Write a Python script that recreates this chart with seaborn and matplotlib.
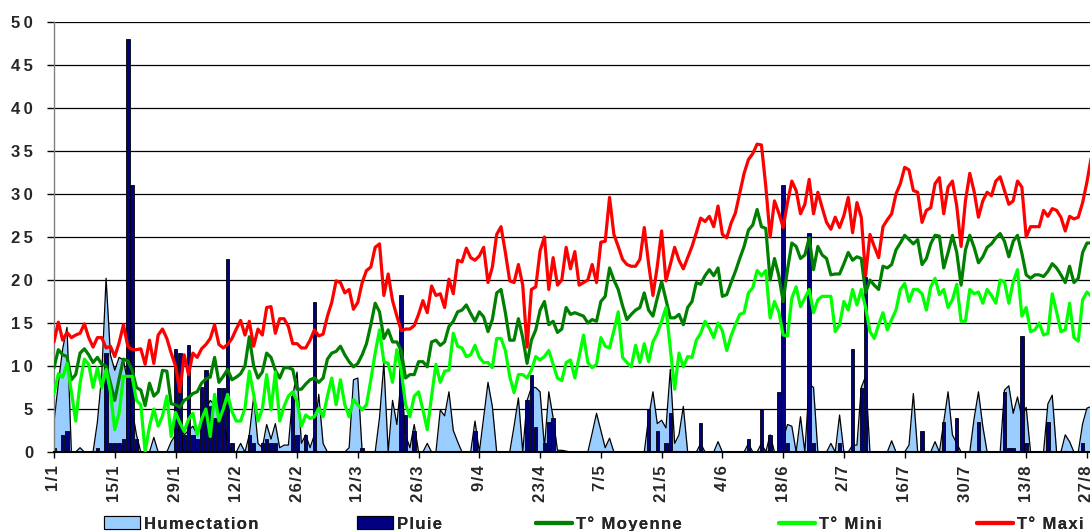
import matplotlib
matplotlib.use("Agg")
import matplotlib.pyplot as plt
import seaborn as sns
import numpy as np
from matplotlib.patches import Patch
from matplotlib.lines import Line2D

# daily values, 1/1 .. 28/8
t_maxi = [
    12.8, 15.1, 13.0, 13.9, 13.3, 13.6, 13.8, 14.9, 13.3, 12.2,
    13.3, 13.3, 12.1, 12.3, 11.1, 12.7, 14.8, 12.3, 11.9, 11.9,
    12.0, 10.2, 13.0, 10.3, 13.6, 14.3, 13.2, 11.5, 10.0, 7.0,
    11.3, 9.0, 11.5, 11.0, 12.0, 12.5, 13.2, 14.8, 12.5, 12.1,
    12.5, 13.2, 14.3, 15.3, 13.6, 15.2, 12.3, 14.3, 13.6, 16.8,
    16.9, 13.8, 15.5, 15.5, 14.6, 12.6, 12.6, 12.1, 12.1, 13.0,
    14.2, 13.5, 13.7, 15.8, 17.4, 19.9, 19.7, 18.5, 18.9, 16.6,
    17.4, 19.7, 21.1, 21.5, 23.8, 24.2, 18.2, 20.7, 17.6, 15.8,
    14.1, 14.3, 14.3, 14.7, 16.0, 17.6, 16.2, 19.3, 18.2, 18.4,
    16.8, 20.1, 18.4, 22.3, 22.1, 23.7, 22.6, 22.3, 22.8, 23.8,
    19.7, 21.5, 25.3, 26.2, 23.2, 19.9, 19.7, 21.8, 19.4, 12.2,
    18.9, 19.2, 23.4, 25.0, 18.9, 22.6, 19.4, 20.0, 23.8, 21.3,
    23.3, 19.4, 19.7, 20.0, 21.8, 19.7, 24.4, 24.5, 29.6, 25.3,
    23.9, 22.4, 21.8, 21.6, 21.6, 22.4, 26.1, 21.9, 18.2, 21.6,
    25.7, 19.9, 21.8, 23.8, 22.3, 21.3, 22.6, 23.9, 25.5, 27.2,
    26.8, 27.4, 26.2, 28.6, 25.3, 24.9, 26.6, 27.8, 30.1, 32.4,
    34.0, 34.7, 35.8, 35.7, 30.9, 25.0, 29.2, 27.8, 26.1, 29.0,
    31.5, 30.4, 27.7, 28.8, 31.7, 27.7, 30.2, 28.4, 26.7, 25.9,
    27.3, 26.1, 27.5, 29.6, 25.5, 29.0, 27.3, 20.5, 25.3, 23.9,
    22.6, 26.2, 27.0, 27.7, 30.0, 31.2, 33.1, 32.8, 30.4, 30.2,
    26.7, 28.1, 28.4, 31.2, 31.9, 27.7, 30.8, 31.5, 28.6, 23.9,
    29.2, 32.4, 30.3, 27.3, 29.2, 30.2, 29.8, 31.5, 32.0, 30.4,
    28.8, 29.2, 31.5, 30.8, 25.0, 26.2, 26.2, 26.2, 28.1, 27.4,
    28.3, 28.1, 27.3, 25.7, 27.4, 27.1, 27.3, 29.0, 31.4, 34.3,
]

t_moyenne = [
    9.8, 11.9, 11.3, 11.1, 8.4, 9.0, 11.5, 12.0, 11.3, 10.4,
    11.0, 10.2, 10.0, 8.0, 6.0, 8.5, 10.8, 10.6, 9.5, 7.5,
    7.2, 5.4, 8.0, 6.5, 7.0, 9.5, 9.4, 5.6, 5.5, 5.2,
    6.0, 6.3, 6.8, 7.0, 8.0, 8.5, 8.7, 11.0, 8.1, 8.8,
    9.6, 8.4, 8.7, 9.1, 10.0, 13.4, 10.0, 8.6, 9.3, 11.5,
    11.0, 9.5, 8.6, 9.8, 9.8, 9.6, 7.3, 7.3, 7.9, 8.4,
    8.6, 8.1, 8.6, 10.8, 11.5, 11.7, 12.3, 11.3, 10.5, 9.9,
    10.3, 11.3, 12.6, 14.8, 17.3, 16.3, 13.2, 14.2, 12.8, 12.8,
    11.8, 8.6, 9.0, 9.0, 10.5, 10.5, 9.9, 12.8, 13.0, 12.4,
    12.8, 14.6, 15.2, 16.3, 16.5, 17.1, 16.1, 15.2, 16.3, 15.7,
    14.0, 15.4, 18.5, 18.9, 16.2, 13.0, 13.0, 15.5, 13.3, 10.3,
    13.0, 14.2, 16.5, 17.5, 14.8, 15.2, 13.9, 14.3, 16.8, 16.0,
    16.2, 16.0, 15.8, 15.0, 15.4, 15.2, 17.5, 18.1, 21.4, 20.0,
    18.9, 17.0, 15.4, 16.0, 16.5, 16.8, 18.5, 16.5, 15.8, 17.9,
    19.8, 17.7, 15.6, 15.6, 16.0, 14.8, 16.8, 17.5, 19.7, 19.5,
    20.5, 21.2, 20.5, 21.4, 18.1, 18.3, 19.7, 21.0, 22.5, 23.9,
    25.8, 26.4, 28.2, 26.2, 26.0, 20.0, 22.5, 20.5, 17.5, 21.2,
    24.3, 23.9, 22.5, 22.9, 24.9, 21.2, 23.9, 22.9, 22.5, 20.6,
    20.7, 20.7, 21.9, 23.2, 22.3, 22.7, 22.5, 18.5, 20.0, 19.4,
    18.9, 21.6, 21.4, 21.8, 23.5, 24.3, 25.2, 24.7, 24.2, 24.7,
    21.8, 22.5, 24.2, 25.2, 25.1, 21.4, 23.2, 25.2, 23.2, 19.4,
    23.5, 25.2, 23.8, 22.0, 22.7, 23.8, 24.2, 24.9, 25.4, 24.5,
    22.7, 24.5, 25.2, 23.1, 20.6, 20.2, 20.6, 20.6, 20.4, 21.0,
    21.9, 21.4, 20.6, 19.7, 21.6, 19.7, 20.2, 23.2, 24.3, 24.3,
]

t_mini = [
    6.8, 9.1, 8.7, 10.3, 7.0, 3.6, 8.0, 10.8, 10.2, 7.5,
    9.8, 7.5, 9.6, 7.0, 2.6, 4.5, 8.8, 8.8, 8.8, 6.0,
    5.5, 0.0, 3.0, 5.0, 3.0, 4.2, 6.5, 1.8, 4.6, 3.4,
    2.4, 3.8, 4.5, 2.0, 3.8, 5.0, 1.8, 6.7, 3.6, 5.0,
    6.7, 4.7, 3.6, 3.6, 5.1, 9.4, 6.7, 3.6, 5.0, 9.0,
    4.9, 9.3, 3.6, 5.3, 6.5, 7.0, 5.9, 3.0, 4.3, 3.9,
    4.1, 5.1, 4.1, 6.5, 8.6, 5.5, 8.4, 5.5, 4.1, 6.1,
    5.5, 4.9, 5.5, 8.4, 11.5, 14.2, 10.5, 10.3, 8.1, 11.9,
    9.5, 5.5, 4.1, 6.5, 7.0, 4.9, 2.6, 6.5, 10.2, 8.1,
    9.4, 9.5, 13.8, 12.3, 12.1, 11.1, 11.3, 12.4, 11.0, 10.4,
    10.4, 9.8, 13.2, 13.2, 11.8, 8.8, 6.9, 9.0, 9.0, 8.6,
    9.5, 11.1, 10.7, 11.1, 11.8, 10.2, 8.6, 8.3, 10.4, 10.7,
    8.6, 11.1, 13.6, 10.4, 9.8, 10.2, 13.3, 12.3, 12.1, 14.1,
    16.3, 11.0, 10.4, 9.9, 12.4, 10.4, 12.6, 10.5, 12.8, 13.8,
    15.2, 16.8, 12.1, 7.3, 11.5, 9.9, 11.1, 11.0, 13.0, 13.8,
    15.2, 14.4, 13.3, 15.0, 14.1, 11.8, 13.5, 14.8, 16.0, 16.2,
    18.5, 19.1, 21.1, 20.5, 21.1, 15.6, 17.5, 16.3, 13.6, 13.5,
    17.9, 19.2, 16.9, 17.9, 18.9, 16.2, 17.7, 18.1, 18.1, 18.1,
    14.0, 14.8, 17.5, 16.5, 18.9, 17.1, 18.9, 16.8, 14.0, 13.2,
    14.8, 16.2, 14.2, 15.4, 16.5, 18.9, 19.6, 17.5, 18.9, 18.9,
    18.4, 16.5, 19.2, 20.2, 18.3, 18.9, 16.8, 17.7, 19.5, 15.2,
    15.2, 18.9, 18.4, 18.6, 17.3, 18.9, 18.2, 17.3, 20.0, 19.8,
    17.3, 19.8, 21.2, 15.8, 16.8, 14.0, 14.2, 15.0, 13.6, 13.8,
    18.4, 16.3, 14.0, 14.2, 17.3, 13.3, 12.9, 17.7, 18.6, 18.1,
]

humectation = [
    3.5, 8.0, 12.0, 14.5, 0, 0, 0.5, 0, 0, 0,
    3.5, 9.0, 20.2, 11.3, 9.5, 11.0, 10.7, 8.0, 5.0, 2.0,
    0, 0, 0, 1.7, 0, 0, 0, 1.2, 2.0, 3.0,
    2.0, 2.5, 3.0, 2.0, 4.0, 5.0, 6.0, 5.5, 6.0, 4.0,
    1.0, 0, 0, 1.0, 0, 2.0, 6.4, 1.0, 0.5, 3.2,
    1.5, 3.3, 0.5, 0.8, 0.8, 6.5, 9.3, 1.0, 2.0, 0.5,
    2.0, 6.7, 1.0, 0, 0, 0, 0, 0, 0.5, 8.4,
    8.6, 0, 0, 0, 0, 4.0, 10.3, 0, 6.0, 3.2,
    8.6, 2.0, 0.5, 3.2, 0, 0, 1.0, 0, 0, 4.9,
    4.2, 7.0, 2.5, 1.2, 0, 0, 0, 3.6, 0, 4.0,
    8.1, 5.3, 0, 0, 0, 0, 3.0, 6.3, 0, 6.0,
    7.5, 7.5, 7.0, 0.5, 7.0, 4.0, 0.2, 0.2, 0.1, 0,
    0, 0, 0, 0, 2.2, 4.5, 2.5, 0.5, 1.6, 0,
    0, 0, 0, 0, 0, 0, 0, 4.0, 7.0, 3.3,
    3.7, 2.8, 9.6, 1.0, 2.0, 5.3, 0, 0, 0, 1.0,
    0, 0, 0, 1.2, 0, 0, 0, 0, 0, 0,
    1.0, 0, 0, 1.0, 0, 2.0, 0, 0, 1.5, 3.2,
    3.0, 0, 4.1, 0, 7.9, 7.5, 0, 0, 0, 1.0,
    0, 4.3, 0, 0, 0.8, 0.8, 7.5, 8.8, 0, 0,
    0, 0, 0, 1.3, 0, 0, 0, 0.8, 6.8, 0,
    0, 0, 0, 1.2, 0, 3.5, 7.0, 2.0, 1.0, 0,
    0, 0, 3.9, 7.0, 3.0, 0, 0, 0, 0, 7.2,
    7.7, 4.5, 6.4, 4.0, 5.2, 0, 0, 0, 0, 5.6,
    6.6, 0, 0, 2.0, 1.2, 0, 0, 3.3, 5.1, 5.3,
]

# rain: day index -> mm (all other days 0)
pluie_jours = [0, 2, 3, 10, 12, 13, 14, 15, 16, 17, 18, 19, 28, 29, 30, 31, 32, 33,
               34, 35, 36, 37, 38, 39, 40, 41, 45, 46, 48, 49, 50, 51, 55, 56, 58,
               60, 71, 80, 81, 83, 97, 109, 110, 111, 113, 114, 115, 137, 139, 141,
               142, 149, 160, 163, 165, 167, 168, 169, 174, 175, 181, 184, 186, 187,
               200, 205, 208, 213, 219, 220, 221, 223, 224, 229, 237]
pluie_mm = [0.5, 2.0, 2.5, 0.5, 11.5, 1.0, 1.0, 1.0, 1.5, 48.0, 31.0, 1.5, 12.0, 11.5,
            2.0, 12.5, 2.0, 1.5, 7.6, 9.5, 5.3, 3.9, 7.5, 7.5, 22.5, 1.0, 2.0, 1.0,
            1.0, 1.5, 1.0, 1.0, 6.5, 2.0, 2.0, 17.4, 0.5, 18.2, 4.3, 2.5, 2.5, 6.0,
            9.0, 2.9, 1.0, 3.5, 4.0, 5.0, 2.4, 1.0, 4.5, 3.4, 1.5, 5.0, 2.0, 7.0,
            31.0, 1.0, 25.5, 1.0, 1.0, 12.0, 7.5, 20.3, 2.5, 3.5, 4.0, 3.5, 7.0,
            0.5, 0.5, 13.5, 1.0, 3.5, 1.0]

tick_labels = ["1/1", "15/1", "29/1", "12/2", "26/2", "12/3", "26/3", "9/4", "23/4",
               "7/5", "21/5", "4/6", "18/6", "2/7", "16/7", "30/7", "13/8", "27/8"]

days = np.arange(len(t_maxi))
pluie = np.zeros(len(days))
pluie[pluie_jours] = pluie_mm


def spaced(s, sep="\u200a"):
    # the original text is drawn with wide letter spacing
    return sep.join(s)


sns.set_style("white")
plt.rcParams['font.family'] = ['Liberation Sans', 'DejaVu Sans']
plt.rcParams['font.weight'] = 'bold'

fig = plt.figure(figsize=(10.9, 5.31), dpi=100)
ax = fig.add_axes([54 / 1090, 1 - 452 / 531, 1 - 54 / 1090, 430 / 531])

ax.yaxis.grid(True, color='black', lw=0.9)
ax.set_axisbelow(True)

ax.fill_between(days, humectation, color='#99CCFF', lw=0, zorder=1.5)
ax.plot(days, humectation, color='black', lw=0.9, zorder=1.6)
ax.bar(days, pluie, width=0.8, color='#000080', edgecolor='black', lw=0.6, zorder=2)

sns.lineplot(x=days, y=t_moyenne, color='#008000', lw=2.3, ax=ax, zorder=3)
sns.lineplot(x=days, y=t_mini, color='#00FF00', lw=2.3, ax=ax, zorder=3)
sns.lineplot(x=days, y=t_maxi, color='#FF0000', lw=2.3, ax=ax, zorder=3)

ax.set_xlim(0, 238.7)
ax.set_ylim(0, 50)
ax.set_yticks(range(0, 51, 5))
ax.set_yticklabels([spaced(str(v), "\u2009") for v in range(0, 51, 5)])
ax.set_xticks(range(0, 14 * len(tick_labels), 14))
ax.set_xticklabels([spaced(t) for t in tick_labels], rotation=90)
ax.tick_params(axis='y', length=5, width=1, pad=10, labelsize=12, color='black', direction='out', left=True)
ax.tick_params(axis='x', length=4.5, width=1, pad=5, labelsize=12, color='black', direction='out', bottom=True)
ax.set_xlabel("")
ax.set_ylabel("")

for side in ['top', 'right']:
    ax.spines[side].set_visible(False)
ax.spines['left'].set_color('#808080')
ax.spines['left'].set_linewidth(1.0)
ax.spines['bottom'].set_color('black')
ax.spines['bottom'].set_linewidth(1.5)

# legend entries spread across the bottom, as in the original
entries = [
    (Patch(facecolor='#99CCFF', edgecolor='black', lw=0.8), "Humectation", 104),
    (Patch(facecolor='#000080', edgecolor='black', lw=0.8), "Pluie", 357),
    (Line2D([], [], color='#008000', lw=3), "T° Moyenne", 536),
    (Line2D([], [], color='#00FF00', lw=3), "T° Mini", 779),
    (Line2D([], [], color='#FF0000', lw=3), "T° Maxi", 977),
]
for handle, label, xpix in entries:
    leg = fig.legend([handle], [spaced(label)], loc='center left',
                     bbox_to_anchor=(xpix / 1090, 1 - 524 / 531), frameon=False,
                     borderpad=0, borderaxespad=0, handlelength=2.15, handleheight=0.8,
                     handletextpad=0.25, fontsize=12)
    fig.add_artist(leg)

fig.savefig("out.png", dpi=100)
